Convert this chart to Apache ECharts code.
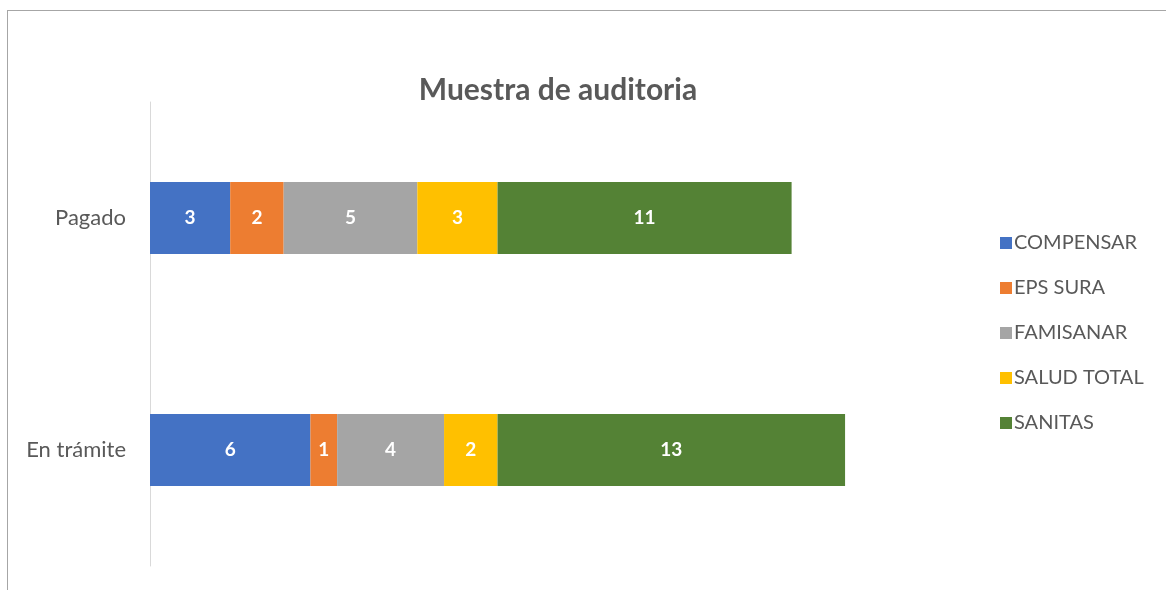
<!DOCTYPE html>
<html>
<head>
<meta charset="utf-8">
<script src="https://cdn.jsdelivr.net/npm/echarts@6/dist/echarts.min.js"></script>
<style>
    html, body { margin: 0; padding: 0; background: #fff; overflow: hidden; }
    .frame {
        position: absolute; left: 7px; top: 10px; width: 1200px; height: 620px;
        border: 1px solid #a6a6a6; box-sizing: border-box;
    }
    #chart { position: absolute; left: 0; top: 0; width: 1166px; height: 590px; }
</style>
</head>
<body>
<div class="frame"></div>
<div id="chart"></div>
<script>
// categorias y valores
const categories = ['Pagado', 'En trámite'];
const seriesNames = ['COMPENSAR', 'EPS SURA', 'FAMISANAR', 'SALUD TOTAL', 'SANITAS'];
const compensar = [3, 6];
const epsSura = [2, 1];
const famisanar = [5, 4];
const saludTotal = [3, 2];
const sanitas = [11, 13];
const colors = ['#4472c4', '#ed7d31', '#a5a5a5', '#ffc000', '#548235'];

const values = [compensar, epsSura, famisanar, saludTotal, sanitas];
const font = 'Lato, "Open Sans", sans-serif';

const chart = echarts.init(document.getElementById('chart'));

const option = {
    animation: false,
    title: {
        text: 'Muestra de auditoria',
        left: 553,
        top: 70,
        textAlign: 'center',
        textStyle: { fontSize: 30, fontWeight: 'bold', color: '#595959', fontFamily: font }
    },
    legend: {
        orient: 'vertical',
        left: 1000,
        top: 233,
        padding: 0,
        itemWidth: 12,
        itemHeight: 12,
        itemGap: 25,
        icon: 'rect',
        data: seriesNames,
        textStyle: { fontSize: 20, color: '#595959', fontFamily: font, lineHeight: 20, padding: [0, 0, 0, -3] }
    },
    grid: { left: 150, top: 102, width: 802, height: 464 },
    xAxis: {
        type: 'value',
        min: 0,
        max: 30,
        show: false
    },
    yAxis: {
        type: 'category',
        inverse: true,
        data: categories,
        axisLine: { lineStyle: { color: '#d9d9d9', width: 1 } },
        axisTick: { show: false },
        axisLabel: { margin: 24, fontSize: 22, color: '#595959', fontFamily: font }
    },
    series: seriesNames.map((name, i) => ({
        name,
        type: 'bar',
        stack: 'total',
        barWidth: 72,
        data: values[i],
        itemStyle: { color: colors[i] },
        label: {
            show: true,
            position: 'inside',
            color: '#fff',
            fontSize: 19,
            fontWeight: 'bold',
            fontFamily: font
        }
    }))
};

chart.setOption(option);
</script>
</body>
</html>
